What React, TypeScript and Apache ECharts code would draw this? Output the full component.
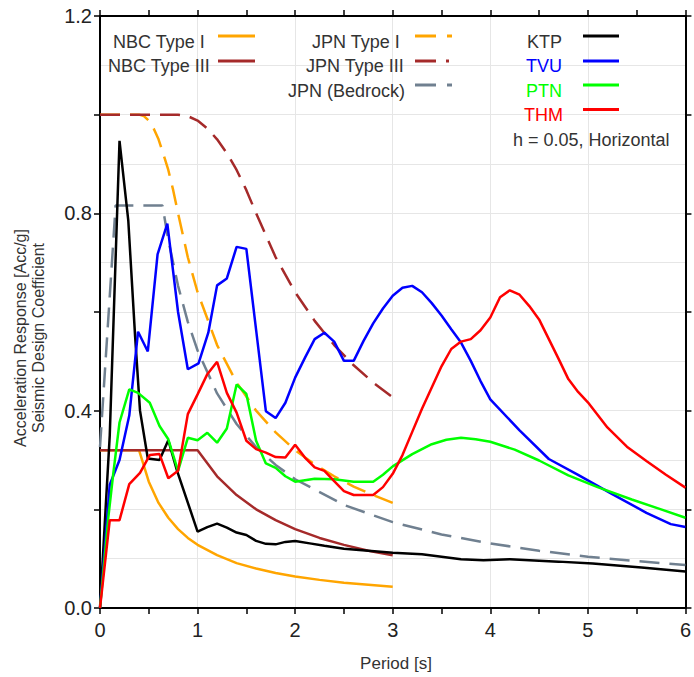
import React, { useEffect, useRef } from "react";
import * as echarts from "echarts";

// ---- Data (period [s], acceleration / coefficient) ----
const nbc1T = [0, 0.4, 0.5, 0.6, 0.7, 0.8, 0.9, 1.0, 1.2, 1.4, 1.6, 1.8, 2.0, 2.25, 2.5, 2.75, 3.0];
const nbc1Y = [0.32, 0.32, 0.256, 0.213, 0.183, 0.16, 0.142, 0.128, 0.107, 0.091, 0.08, 0.071, 0.064, 0.057, 0.051, 0.047, 0.043];

const nbc3T = [0, 1.0, 1.2, 1.4, 1.6, 1.8, 2.0, 2.25, 2.5, 2.75, 3.0];
const nbc3Y = [0.32, 0.32, 0.267, 0.229, 0.2, 0.178, 0.16, 0.142, 0.128, 0.116, 0.107];

const jpn1T = [0, 0.4, 0.45, 0.5, 0.55, 0.6, 0.65, 0.7, 0.75, 0.8, 0.9, 1.0, 1.2, 1.4, 1.6, 1.8, 2.0, 2.2, 2.4, 2.6, 2.8, 3.0];
const jpn1Y = [1, 1, 0.997, 0.988, 0.972, 0.95, 0.92, 0.888, 0.847, 0.8, 0.711, 0.64, 0.533, 0.457, 0.4, 0.356, 0.32, 0.291, 0.267, 0.246, 0.229, 0.213];

const jpn3T = [0, 0.8, 0.9, 1.0, 1.1, 1.2, 1.3, 1.4, 1.5, 1.6, 1.8, 2.0, 2.2, 2.4, 2.6, 2.8, 3.0];
const jpn3Y = [1, 1, 0.997, 0.988, 0.972, 0.95, 0.922, 0.888, 0.847, 0.8, 0.711, 0.64, 0.582, 0.533, 0.492, 0.457, 0.427];

const bedT = [0, 0.16, 0.64, 0.7, 0.8, 0.9, 1.0, 1.2, 1.4, 1.6, 1.8, 2.0, 2.5, 3.0, 3.5, 4.0, 4.5, 5.0, 5.5, 6.0];
const bedY = [0.326, 0.816, 0.816, 0.746, 0.653, 0.58, 0.522, 0.435, 0.373, 0.326, 0.29, 0.261, 0.209, 0.174, 0.149, 0.131, 0.116, 0.104, 0.095, 0.087];

const ktpT = [0, 0.1, 0.2, 0.29, 0.36, 0.41, 0.49, 0.61, 0.7, 0.79, 1.0, 1.1, 1.2, 1.3, 1.4, 1.5, 1.6, 1.7, 1.8, 1.9, 2.0, 2.15, 2.3, 2.5, 3.0, 3.3, 3.7, 3.93, 4.2, 4.7, 5.05, 5.55, 6.0];
const ktpY = [0, 0.35, 0.947, 0.785, 0.55, 0.4, 0.303, 0.3, 0.34, 0.278, 0.155, 0.164, 0.171, 0.163, 0.153, 0.148, 0.136, 0.13, 0.129, 0.134, 0.136, 0.131, 0.126, 0.12, 0.112, 0.109, 0.099, 0.097, 0.099, 0.094, 0.09, 0.082, 0.074];

const tvuT = [0, 0.1, 0.2, 0.3, 0.39, 0.49, 0.59, 0.69, 0.8, 0.9, 1.01, 1.11, 1.2, 1.3, 1.4, 1.5, 1.7, 1.8, 1.9, 2.0, 2.1, 2.2, 2.3, 2.4, 2.5, 2.6, 2.7, 2.8, 2.9, 3.0, 3.1, 3.2, 3.3, 3.4, 3.5, 3.6, 3.7, 3.8, 3.9, 4.0, 4.3, 4.6, 4.9, 5.25, 5.6, 5.85, 6.0];
const tvuY = [0, 0.25, 0.3, 0.39, 0.56, 0.52, 0.717, 0.779, 0.6, 0.484, 0.496, 0.558, 0.654, 0.668, 0.732, 0.728, 0.399, 0.385, 0.416, 0.467, 0.507, 0.545, 0.558, 0.54, 0.501, 0.501, 0.541, 0.577, 0.607, 0.633, 0.649, 0.653, 0.64, 0.618, 0.593, 0.565, 0.538, 0.501, 0.46, 0.423, 0.36, 0.302, 0.27, 0.231, 0.193, 0.17, 0.164];

const ptnT = [0, 0.085, 0.135, 0.2, 0.3, 0.39, 0.51, 0.61, 0.7, 0.8, 0.9, 1.0, 1.1, 1.2, 1.3, 1.4, 1.5, 1.6, 1.7, 1.8, 1.9, 2.0, 2.2, 2.4, 2.6, 2.8, 2.9, 3.0, 3.2, 3.4, 3.55, 3.7, 3.85, 4.0, 4.25, 4.5, 4.8, 5.1, 5.45, 5.75, 6.0];
const ptnY = [0, 0.183, 0.271, 0.376, 0.443, 0.436, 0.416, 0.369, 0.342, 0.278, 0.345, 0.34, 0.355, 0.335, 0.364, 0.453, 0.434, 0.339, 0.293, 0.284, 0.267, 0.256, 0.262, 0.261, 0.256, 0.256, 0.27, 0.287, 0.312, 0.332, 0.341, 0.345, 0.342, 0.337, 0.321, 0.299, 0.269, 0.245, 0.22, 0.2, 0.183];

const thmT = [0, 0.1, 0.2, 0.3, 0.41, 0.51, 0.61, 0.7, 0.8, 0.9, 1.0, 1.1, 1.2, 1.3, 1.4, 1.5, 1.6, 1.7, 1.8, 1.9, 2.0, 2.1, 2.2, 2.3, 2.4, 2.5, 2.6, 2.8, 2.9, 3.0, 3.1, 3.2, 3.3, 3.4, 3.5, 3.6, 3.7, 3.8, 3.9, 4.0, 4.1, 4.2, 4.3, 4.4, 4.5, 4.6, 4.7, 4.8, 4.9, 5.0, 5.2, 5.4, 5.6, 5.8, 6.0];
const thmY = [0, 0.178, 0.178, 0.251, 0.274, 0.31, 0.312, 0.263, 0.278, 0.393, 0.433, 0.474, 0.499, 0.436, 0.396, 0.339, 0.322, 0.315, 0.306, 0.305, 0.331, 0.305, 0.285, 0.278, 0.257, 0.237, 0.229, 0.229, 0.245, 0.272, 0.31, 0.357, 0.404, 0.447, 0.49, 0.525, 0.54, 0.545, 0.563, 0.589, 0.63, 0.644, 0.635, 0.612, 0.585, 0.545, 0.505, 0.464, 0.438, 0.417, 0.366, 0.327, 0.298, 0.27, 0.244];

const xTicks = [0, 1, 2, 3, 4, 5, 6];
const yTickLabels = ["0.0", "0.4", "0.8", "1.2"];

const FONT = '"Liberation Sans", Arial, Helvetica, sans-serif';

const zip = (t: number[], y: number[]) => t.map((v, i) => [v, y[i]]);

export default function App() {
  const ref = useRef<HTMLDivElement>(null);

  useEffect(() => {
    if (!ref.current) return;
    const chart = echarts.init(ref.current, undefined, { renderer: "svg" });

    const tick = { show: true, length: 6, lineStyle: { color: "#000", width: 1.5 } };
    const axisLine = { show: true, onZero: false, lineStyle: { color: "#000", width: 2 } };

    const line = (name: string, t: number[], y: number[], color: string, dashed: boolean, width = 2.5) => ({
      name,
      type: "line",
      data: zip(t, y),
      showSymbol: false,
      symbol: "none",
      silent: true,
      lineStyle: { color, width, type: dashed ? [20, 10] : "solid", cap: "butt" },
      clip: true,
    });

    const legendText = (text: string, x: number, y: number, fill = "#333") => ({
      type: "text",
      x,
      y,
      z: 100,
      style: { text, fill, fontSize: 18, fontFamily: FONT, align: "left", verticalAlign: "middle" },
    });
    const seg = (x1: number, x2: number, y: number, stroke: string) => ({
      type: "line",
      z: 100,
      shape: { x1, y1: y, x2, y2: y },
      style: { stroke, lineWidth: 3 },
    });

    const option: any = {
      animation: false,
      backgroundColor: "#ffffff",
      grid: { left: 100, right: 2, top: 16, bottom: 69, containLabel: false },
      xAxis: [
        {
          type: "value",
          min: 0,
          max: 6,
          interval: 1,
          position: "bottom",
          axisLine,
          axisTick: tick,
          minorTick: { ...tick, splitNumber: 2 },
          axisLabel: {
            fontSize: 20,
            color: "#222",
            fontFamily: FONT,
            margin: 12,
            formatter: (v: number) => (xTicks.includes(v) ? String(v) : ""),
          },
          splitLine: { show: true, lineStyle: { color: "#e6e6e6", width: 1 } },
        },
        {
          type: "value",
          min: 0,
          max: 6,
          interval: 1,
          position: "top",
          axisLine,
          axisTick: tick,
          minorTick: { ...tick, splitNumber: 2 },
          axisLabel: { show: false },
          splitLine: { show: false },
        },
      ],
      yAxis: [
        {
          type: "value",
          min: 0,
          max: 1.2,
          interval: 0.2,
          position: "left",
          axisLine,
          axisTick: tick,
          minorTick: { show: false, splitNumber: 2 },
          minorSplitLine: { show: true, lineStyle: { color: "#e6e6e6", width: 1 } },
          axisLabel: {
            fontSize: 20,
            color: "#222",
            fontFamily: FONT,
            margin: 8,
            formatter: (v: number) => {
              const s = v.toFixed(1);
              return yTickLabels.includes(s) ? s : "";
            },
          },
          splitLine: { show: true, lineStyle: { color: "#e6e6e6", width: 1 } },
        },
        {
          type: "value",
          min: 0,
          max: 1.2,
          interval: 0.2,
          position: "right",
          axisLine,
          axisTick: tick,
          axisLabel: { show: false },
          splitLine: { show: false },
        },
      ],
      series: [
        line("NBC Type I", nbc1T, nbc1Y, "#ffa500", false),
        line("NBC Type III", nbc3T, nbc3Y, "#a52a2a", false),
        line("JPN Type I", jpn1T, jpn1Y, "#ffa500", true),
        line("JPN Type III", jpn3T, jpn3Y, "#a52a2a", true),
        line("JPN (Bedrock)", bedT, bedY, "#708090", true),
        line("KTP", ktpT, ktpY, "#000000", false),
        line("TVU", tvuT, tvuY, "#0000ff", false),
        line("PTN", ptnT, ptnY, "#00ff00", false),
        line("THM", thmT, thmY, "#ff0000", false),
      ],
      graphic: [
        legendText("NBC Type I", 113, 42),
        legendText("NBC Type III", 108, 66),
        seg(218, 255, 36, "#ffa500"),
        seg(218, 255, 61, "#a52a2a"),
        legendText("JPN Type I", 312, 42),
        legendText("JPN Type III", 306, 66),
        legendText("JPN (Bedrock)", 288, 90.5),
        seg(415, 436, 36, "#ffa500"),
        seg(447, 452, 36, "#ffa500"),
        seg(415, 436, 61, "#a52a2a"),
        seg(446, 449, 61, "#a52a2a"),
        seg(415, 436, 85, "#708090"),
        seg(447, 452, 85, "#708090"),
        legendText("KTP", 527, 42),
        legendText("TVU", 526, 66, "#0000ff"),
        legendText("PTN", 526, 90.5, "#00ff00"),
        legendText("THM", 524, 115, "#ff0000"),
        seg(583, 619, 36, "#000000"),
        seg(583, 619, 61, "#0000ff"),
        seg(583, 619, 85, "#00ff00"),
        seg(583, 619, 109.5, "#ff0000"),
        legendText("h = 0.05, Horizontal", 513, 139.5),
        {
          type: "text",
          x: 20,
          y: 338,
          z: 100,
          rotation: Math.PI / 2,
          style: { text: "Acceleration Response [Acc/g]", fill: "#333", fontSize: 16, fontFamily: FONT, align: "center", verticalAlign: "middle" },
        },
        {
          type: "text",
          x: 38,
          y: 338,
          z: 100,
          rotation: Math.PI / 2,
          style: { text: "Seismic Design Coefficient", fill: "#333", fontSize: 16, fontFamily: FONT, align: "center", verticalAlign: "middle" },
        },
        {
          type: "text",
          x: 396,
          y: 663,
          z: 100,
          style: { text: "Period [s]", fill: "#333", fontSize: 17, fontFamily: FONT, align: "center", verticalAlign: "middle" },
        },
      ],
    };

    chart.setOption(option);
    return () => chart.dispose();
  }, []);

  return (
    <div
      ref={ref}
      style={{ position: "absolute", left: 0, top: 0, width: 694, height: 677, background: "#fff" }}
    />
  );
}
